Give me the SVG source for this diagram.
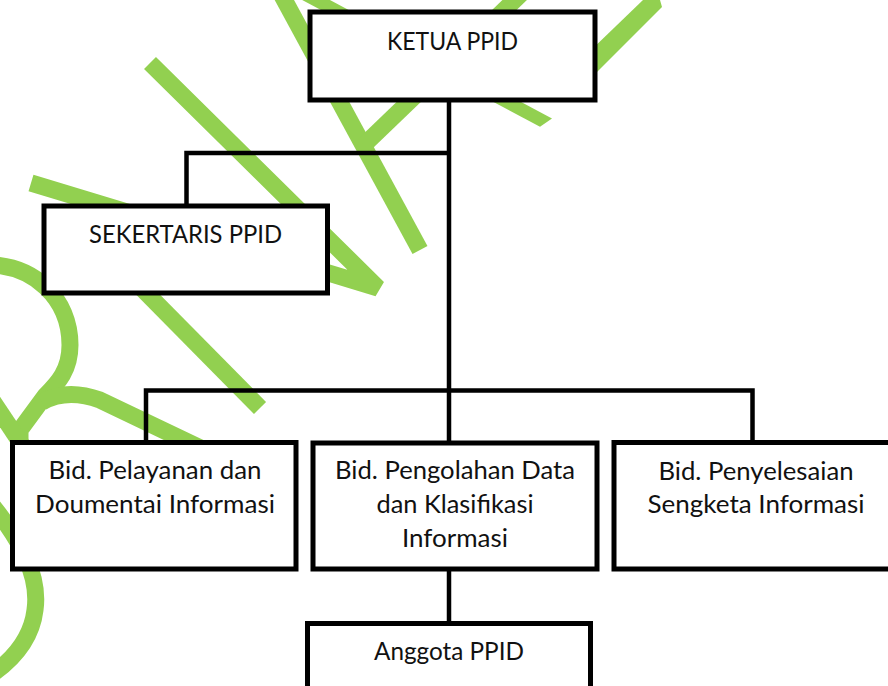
<svg xmlns="http://www.w3.org/2000/svg" width="888" height="686" viewBox="0 0 888 686">
<style>
.wm{fill:none;stroke:#92D050;stroke-width:17;stroke-linecap:butt}
.wmf{fill:#92D050}
.box{fill:#fff;stroke:#000;stroke-width:5}
.con{fill:none;stroke:#000;stroke-width:4.5;stroke-linejoin:miter}
text{font-family:Lato,"Open Sans",sans-serif;font-size:25px;fill:#111;text-anchor:middle}
</style>
<rect width="888" height="686" fill="#fff"/>
<g id="watermark">
 <path class="wm" d="M280,-8 L420,250"/>
 <path class="wm" d="M364,145 L523,-8"/>
 <polygon class="wmf" points="290,-21.3 552,118.4 540,126.8 290,-6.5"/>
 <polygon class="wmf" points="560,80 643,0 660,0 662,7 585,84"/>
 <polyline class="wm" points="150,63 378,288 31,183" stroke-linejoin="bevel"/>
 <path class="wm" d="M100,246 L260,408"/>
 <path class="wm" d="M-20,265 C35,262 70,300 70,345 C70,370 58,383 45,396 L20,430 L20,450"/>
 <path class="wm" d="M-8,400 L22,445"/>
 <path class="wm" d="M42,402 C58,393 78,392 100,400 L215,455"/>
 <path class="wm" d="M-8,505 C20,540 40,575 35,610 C32,635 18,655 -5,672"/>
</g>
<g id="connectors">
 <path class="con" d="M449,100 V443"/>
 <path class="con" d="M449,153 H186.5 V206"/>
 <path class="con" d="M146,443 V390.5 H752.5 V443"/>
 <path class="con" d="M449,569 V623.5"/>
</g>
<g id="ketua">
 <rect class="box" x="310" y="12" width="285" height="88"/>
 <text x="452.5" y="50" textLength="131" lengthAdjust="spacingAndGlyphs">KETUA PPID</text>
</g>
<g id="sekertaris">
 <rect class="box" x="44" y="206" width="283.5" height="87"/>
 <text x="185.5" y="243.3" textLength="193" lengthAdjust="spacingAndGlyphs">SEKERTARIS PPID</text>
</g>
<g id="bid-pelayanan">
 <rect class="box" x="12.5" y="442.5" width="283.5" height="126.5"/>
 <text x="155" y="479.3" textLength="213" lengthAdjust="spacingAndGlyphs">Bid. Pelayanan dan</text>
 <text x="155" y="512.7" textLength="240" lengthAdjust="spacingAndGlyphs">Doumentai Informasi</text>
</g>
<g id="bid-pengolahan">
 <rect class="box" x="313" y="443" width="284" height="126"/>
 <text x="455" y="479.3" textLength="240" lengthAdjust="spacingAndGlyphs">Bid. Pengolahan Data</text>
 <text x="455" y="513" textLength="157" lengthAdjust="spacingAndGlyphs">dan Klasifikasi</text>
 <text x="455" y="546.5" textLength="106" lengthAdjust="spacingAndGlyphs">Informasi</text>
</g>
<g id="bid-penyelesaian">
 <rect class="box" x="614" y="442.5" width="284" height="126.5"/>
 <text x="756" y="480" textLength="195" lengthAdjust="spacingAndGlyphs">Bid. Penyelesaian</text>
 <text x="756" y="513.3" textLength="217" lengthAdjust="spacingAndGlyphs">Sengketa Informasi</text>
</g>
<g id="anggota">
 <rect class="box" x="307.5" y="623.5" width="283" height="90"/>
 <text x="449" y="660" textLength="150" lengthAdjust="spacingAndGlyphs">Anggota PPID</text>
</g>
</svg>
